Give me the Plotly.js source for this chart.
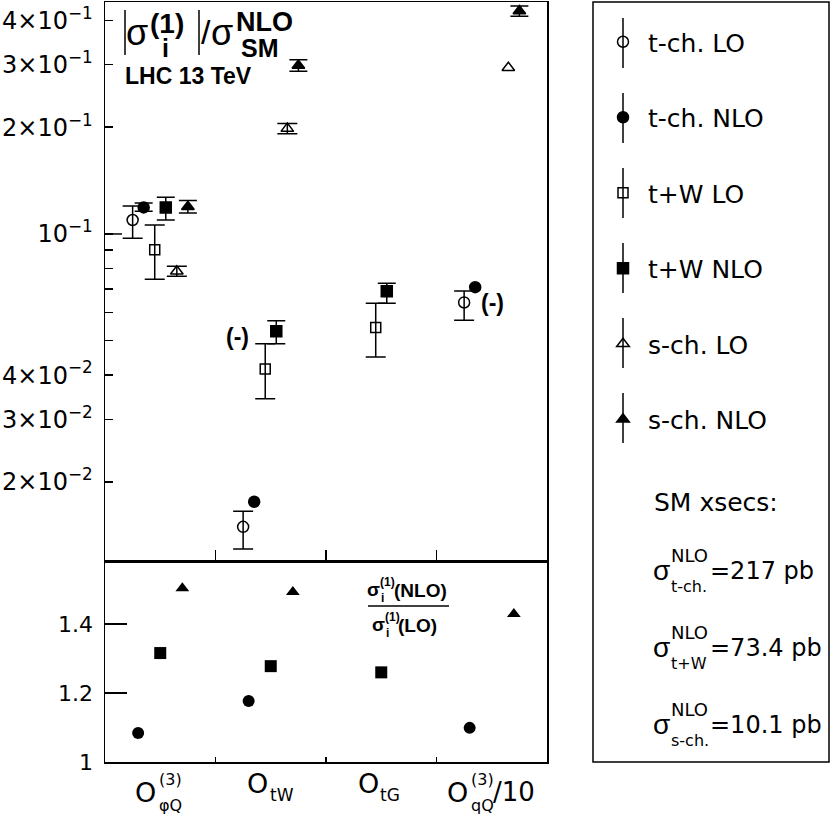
<!DOCTYPE html>
<html>
<head>
<meta charset="utf-8">
<script src="https://cdn.plot.ly/plotly-3.0.1.min.js"></script>
<style>body{margin:0;} #chart{width:830px;height:819px;}</style>
</head>
<body>
<div id="chart"></div>
<script>
var W = 830, H = 819;
var FONT = 'DejaVu Sans, Liberation Sans, Arial, sans-serif';
var FONTB = 'Liberation Sans, Arial, Helvetica, sans-serif';

// operators on the x axis
var categories = ['O_phiQ(3)', 'O_tW', 'O_tG', 'O_qQ(3)/10'];

// |sigma_i^(1)| / sigma_SM^NLO, with scale-variation bands (up / down)
var tchLO    = [0.1095, 0.01494, null, 0.0641];
var tchLOup  = [0.0104, 0.0016, NaN, 0.0050];
var tchLOdn  = [0.0123, 0.0020, NaN, 0.0070];
var tchNLO   = [0.1188, 0.01758, null, 0.0708];
var tchNLOup = [0.0034, NaN, NaN, NaN];
var tchNLOdn = [0.0030, NaN, NaN, NaN];
var twLO     = [0.0902, 0.0416, 0.0545, null];
var twLOup   = [0.0158, 0.0074, 0.0093, NaN];
var twLOdn   = [0.0157, 0.0073, 0.0095, NaN];
var twNLO    = [0.1188, 0.0532, 0.0690, null];
var twNLOup  = [0.0082, 0.0037, 0.0036, NaN];
var twNLOdn  = [0.0093, 0.0042, 0.0052, NaN];
var schLO    = [0.0785, 0.1982, null, 0.2943];
var schLOup  = [0.0026, 0.0067, NaN, NaN];
var schLOdn  = [0.0025, 0.0064, NaN, NaN];
var schNLO   = [0.1193, 0.2985, null, 0.425];
var schNLOup = [0.0050, 0.0115, NaN, 0.014];
var schNLOdn = [0.0047, 0.0110, NaN, 0.014];

// NLO / LO ratios
var ratioTch = [1.084, 1.177, null, 1.099];
var ratioTW  = [1.316, 1.278, 1.260, null];
var ratioSch = [1.504, 1.493, null, 1.429];

var yTickVals = [0.02, 0.03, 0.04, 0.1, 0.2, 0.3, 0.4];
var yTickText = ['2\u00d710<sup>\u22122</sup>', '3\u00d710<sup>\u22122</sup>', '4\u00d710<sup>\u22122</sup>',
                 '10<sup>\u22121</sup>', '2\u00d710<sup>\u22121</sup>', '3\u00d710<sup>\u22121</sup>', '4\u00d710<sup>\u22121</sup>'];
var yMinorVals = [0.05, 0.06, 0.07, 0.08, 0.09];
var rTickVals = [1, 1.2, 1.4];
var rTickText = ['1', '1.2', '1.4'];

var xsecNames = ['t-ch.', 't+W', 's-ch.'];
var xsecVals = ['217', '73.4', '10.1'];

function px(x) { return x / W; }
function py(y) { return 1 - y / H; }

var series = [
  {name: 't-ch. LO',  y: tchLO,  up: tchLOup,  dn: tchLOdn,  symbol: 'circle-open', size: 11, cap: 10},
  {name: 't-ch. NLO', y: tchNLO, up: tchNLOup, dn: tchNLOdn, symbol: 'circle',      size: 11, cap: 9},
  {name: 't+W LO',    y: twLO,   up: twLOup,   dn: twLOdn,   symbol: 'square-open', size: 10, cap: 10},
  {name: 't+W NLO',   y: twNLO,  up: twNLOup,  dn: twNLOdn,  symbol: 'square',      size: 11, cap: 9},
  {name: 's-ch. LO',  y: schLO,  up: schLOup,  dn: schLOdn,  symbol: 'triangle-up-open', size: 11, cap: 10},
  {name: 's-ch. NLO', y: schNLO, up: schNLOup, dn: schNLOdn, symbol: 'triangle-up', size: 11, cap: 9}
];
var offsets = [0.25, 0.35, 0.45, 0.55, 0.65, 0.75];

var data = [];
for (let k = 0; k < series.length; k++) {
  let s = series[k];
  data.push({
    type: 'scatter', mode: 'markers', name: s.name, legendgroup: 'g' + k,
    x: categories.map((c, i) => i + offsets[k]), y: s.y,
    xaxis: 'x2', yaxis: 'y',
    marker: {symbol: s.symbol, size: s.size, color: 'black', line: {color: 'black', width: 1.5}},
    error_y: {type: 'data', symmetric: false, array: s.up, arrayminus: s.dn,
              color: 'black', thickness: 1.5, width: s.cap},
    cliponaxis: false
  });
}

var ratios = [
  {y: ratioTch, symbol: 'circle', size: 12, off: 0.3},
  {y: ratioTW,  symbol: 'square', size: 12, off: 0.5},
  {y: ratioSch, symbol: 'triangle-up', size: 12, off: 0.7}
];
for (let r of ratios) {
  data.push({
    type: 'scatter', mode: 'markers', showlegend: false,
    x: categories.map((c, i) => i + r.off), y: r.y,
    xaxis: 'x', yaxis: 'y2',
    marker: {symbol: r.symbol, size: r.size, color: 'black'}
  });
}

function lab(x, y, text, size, xanchor, fam) {
  return {xref: 'paper', yref: 'paper', x: px(x), y: py(y), text: text, showarrow: false,
          xanchor: xanchor || 'center', yanchor: 'middle',
          font: {family: fam || FONT, size: size, color: 'black'}};
}
function line(x0, y0, x1, y1) {
  return {type: 'line', xref: 'paper', yref: 'paper', x0: px(x0), y0: py(y0), x1: px(x1), y1: py(y1),
          line: {color: 'black', width: 1.5}};
}

var ann = [];
// header in the main pad
ann.push(lab(137, 33, '\u03c3', 36, 'center', FONTB));
ann.push(lab(148, 23, '<b>(1)</b>', 28, 'left', FONTB));
ann.push(lab(160, 48, '<b>i</b>', 25, 'left', FONTB));
ann.push(lab(206, 32, '/', 34, 'center', FONTB));
ann.push(lab(222, 33, '\u03c3', 36, 'center', FONTB));
ann.push(lab(234, 22, '<b>NLO</b>', 27, 'left', FONTB));
ann.push(lab(239, 48, '<b>SM</b>', 25, 'left', FONTB));
ann.push(lab(123, 76, '<b>LHC 13 TeV</b>', 23, 'left', FONTB));
ann.push(lab(237, 337, '<b>(-)</b>', 23, 'center', FONTB));
ann.push(lab(492, 303, '<b>(-)</b>', 23, 'center', FONTB));
// ratio label
ann.push(lab(373, 589, '<b>\u03c3</b>', 19, 'center', FONTB));
ann.push(lab(378, 582, '<b>(1)</b>', 12, 'left', FONTB));
ann.push(lab(379, 598, '<b>i</b>', 12, 'left', FONTB));
ann.push(lab(392, 590, '<b>(NLO)</b>', 19, 'left', FONTB));
ann.push(lab(378, 624, '<b>\u03c3</b>', 19, 'center', FONTB));
ann.push(lab(383, 617, '<b>(1)</b>', 12, 'left', FONTB));
ann.push(lab(384, 633, '<b>i</b>', 12, 'left', FONTB));
ann.push(lab(396, 625, '<b>(LO)</b>', 19, 'left', FONTB));
// category labels
ann.push(lab(145, 792, 'O', 27));
ann.push(lab(157, 779, '(3)', 16, 'left'));
ann.push(lab(157, 805, '\u03c6Q', 16, 'left'));
ann.push(lab(257, 783, 'O', 27));
ann.push(lab(268, 795, 'tW', 17, 'left'));
ann.push(lab(368, 783, 'O', 27));
ann.push(lab(378, 795, 'tG', 17, 'left'));
ann.push(lab(457, 792, 'O', 27));
ann.push(lab(469, 779, '(3)', 16, 'left'));
ann.push(lab(469, 805, 'qQ', 16, 'left'));
ann.push(lab(491, 792, '/10', 26, 'left'));
// SM cross sections in the legend box
ann.push(lab(652, 502, 'SM xsecs:', 25, 'left'));
for (let j = 0; j < xsecNames.length; j++) {
  let yc = 570 + j * 77;
  ann.push(lab(661, yc, '\u03c3', 28, 'center', FONTB));
  ann.push(lab(669, yc - 15, 'NLO', 18, 'left'));
  ann.push(lab(669, yc + 16, xsecNames[j], 16, 'left'));
  ann.push(lab(708, yc + 1, '=' + xsecVals[j] + ' pb', 24, 'left'));
}

var shapes = [];
shapes.push({type: 'rect', xref: 'paper', yref: 'paper', x0: px(593), x1: px(829), y0: py(2), y1: py(762),
             line: {color: 'black', width: 1.5}});
shapes.push({type: 'line', xref: 'paper', yref: 'y', x0: px(105), x1: px(122), y0: 0.1, y1: 0.1,
             line: {color: 'black', width: 1.5}});
shapes.push(line(125, 10, 125, 55));
shapes.push(line(199, 10, 199, 55));
shapes.push(line(368, 606, 449, 606));
for (let k = 0; k < series.length; k++) {
  let yc = 43 + k * 75;
  shapes.push(line(623, yc - 25, 623, yc + 25));
}

var axisBase = {showline: true, linecolor: 'black', linewidth: 1.5, mirror: true,
                showgrid: false, zeroline: false, ticks: 'inside', tickcolor: 'black', tickwidth: 1.5};

var layout = {
  width: W, height: H,
  margin: {l: 0, r: 0, t: 0, b: 0},
  paper_bgcolor: 'white', plot_bgcolor: 'white',
  font: {family: FONT, color: 'black'},
  xaxis: Object.assign({}, axisBase, {domain: [px(105), px(547)], range: [0, 4], anchor: 'y2',
          tickmode: 'array', tickvals: [1, 2, 3], ticklen: 5, showticklabels: false}),
  xaxis2: Object.assign({}, axisBase, {domain: [px(105), px(547)], range: [0, 4], anchor: 'y', matches: 'x',
          tickmode: 'array', tickvals: [1, 2, 3], ticklen: 11, showticklabels: false}),
  yaxis: Object.assign({}, axisBase, {type: 'log', domain: [py(561), py(2)], range: [-1.922, -0.346], anchor: 'x2',
          tickmode: 'array', tickvals: yTickVals, ticktext: yTickText, ticklen: 8,
          tickfont: {size: 24, family: FONT}, ticklabelstandoff: 6,
          minor: {tickmode: 'array', tickvals: yMinorVals, ticks: 'inside', ticklen: 8, tickcolor: 'black', tickwidth: 1.5}}),
  yaxis2: Object.assign({}, axisBase, {domain: [py(762), py(561)], range: [1, 1.583], anchor: 'x',
          tickmode: 'array', tickvals: rTickVals, ticktext: rTickText, ticklen: 22,
          tickfont: {size: 22, family: FONT}, ticklabelstandoff: 6}),
  showlegend: true,
  legend: {x: px(598), y: py(19), xanchor: 'left', yanchor: 'top', font: {size: 25, family: FONT},
           bgcolor: 'rgba(0,0,0,0)', borderwidth: 0, traceorder: 'grouped', tracegroupgap: 40, itemwidth: 40},
  annotations: ann,
  shapes: shapes
};

Plotly.newPlot('chart', data, layout, {displayModeBar: false, staticPlot: true});
</script>
</body>
</html>
